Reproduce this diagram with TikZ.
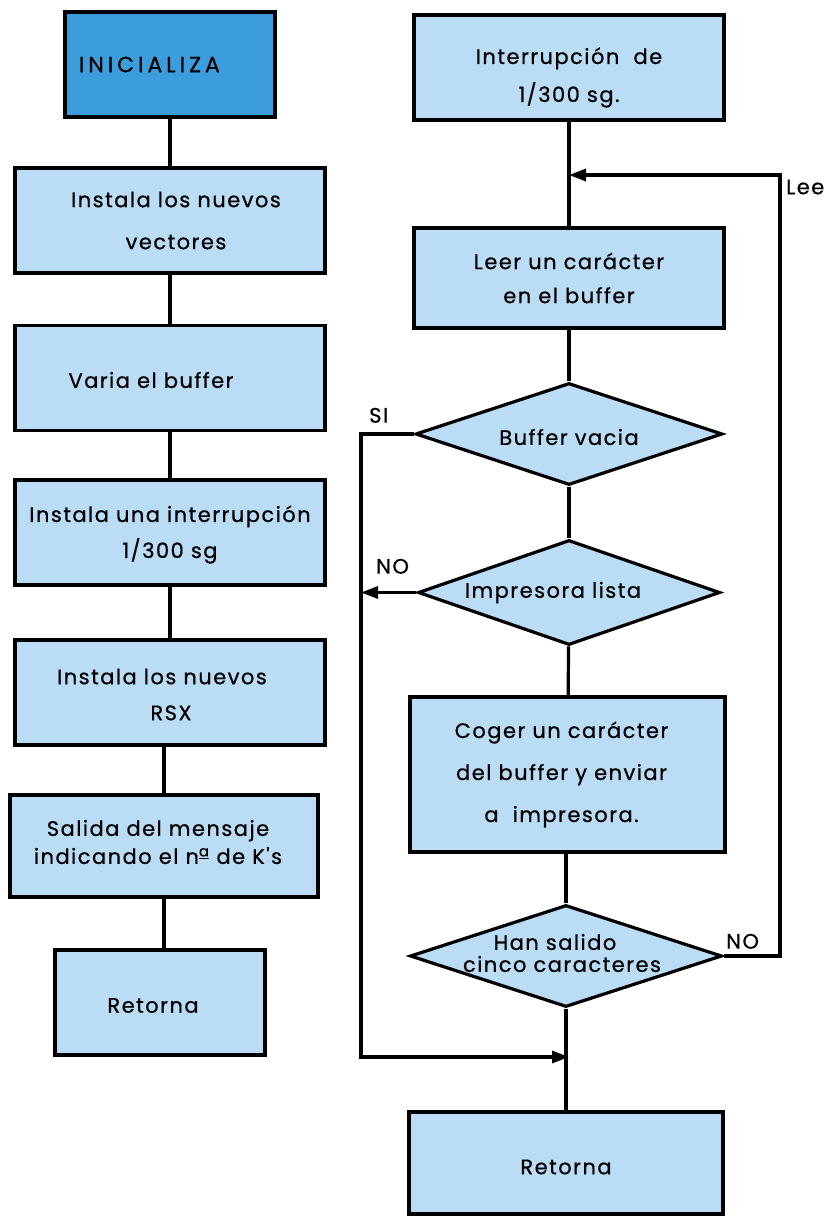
\documentclass[tikz,border=0pt]{standalone}
\usepackage{fontspec}
\setmainfont{Poppins}
\usetikzlibrary{shapes.geometric,arrows.meta}
\definecolor{lb}{RGB}{186,220,244}
\definecolor{db}{RGB}{60,157,221}
\newfontfamily\fcfont[LetterSpace=7,FakeBold=0.6]{Poppins}
\newfontfamily\wideft[LetterSpace=18,FakeBold=0.6]{Poppins}
\begin{document}
\begin{tikzpicture}[x=1pt,y=-1pt,
  every node/.style={font=\fcfont\fontsize{21pt}{26pt}\selectfont},
  every label/.style={align=center, inner sep=0pt},
  box/.style={draw, line width=3.2pt, fill=lb, minimum width=310pt, minimum height=105pt, inner sep=0pt, align=center},
  dia/.style={draw, line width=3.2pt, fill=lb, diamond, inner sep=0pt, minimum width=307pt, minimum height=102pt},
  ln/.style={line width=3.2pt},
  arr/.style={line width=3.2pt, -{Triangle[length=17pt,width=12pt]}},
  lbl/.style={inner sep=0pt}
]
\useasboundingbox (0,0) rectangle (831,1216);
\fill[white] (0,0) rectangle (831,1216);
% left column
\node[box, fill=db, minimum width=210pt, text width=182pt, align=left, font=\wideft\fontsize{22pt}{26pt}\selectfont] (ini) at (170,64.5) {INICIALIZA};
\node[box, label={[xshift=6pt]center:Instala los nuevos\\[16pt]vectores}] (vec) at (170,220.5) {};
\node[box, label={[xshift=-19pt, yshift=-2pt]center:Varia el buffer}] (buf) at (170,378) {};
\node[box, label={[yshift=-2pt]center:Instala una interrupción\\[10pt]1/300 sg}] (intr) at (170,532.5) {};
\node[box, label={[xshift=-8pt, yshift=-2pt]center:Instala los nuevos\\[10pt]\hspace*{18pt}RSX}] (rsx) at (170,692.5) {};
\node[box, minimum width=308pt, minimum height=102pt, label={[xshift=-6pt, yshift=4pt]center:Salida del mensaje\\[2pt]indicando el n\textsuperscript{\underline{a}} de K's}] (sal) at (164,846) {};
\node[box, minimum width=210pt, label={[xshift=-7pt, yshift=-3pt]center:Retorna}] (ret1) at (160,1002.5) {};
\draw[ln] (ini) -- (vec);
\draw[ln] (vec) -- (buf);
\draw[ln] (buf) -- (intr);
\draw[ln] (intr) -- (rsx);
\draw[ln] (rsx.south -| sal.north) -- (sal.north);
\draw[ln] (sal.south) -- (sal.south |- ret1.north);
% right column
\node[box, label={[yshift=-10pt]center:Interrupción \ de\\[12pt]1/300 sg.}] (irq) at (569,67.5) {};
\node[box, minimum height=100pt, label={center:Leer un carácter\\[8pt]en el buffer}] (leer) at (569,278) {};
\node[dia, label={[yshift=-3pt]center:Buffer vacia}] (bv) at (569,434) {};
\node[dia, minimum width=302pt, minimum height=105pt, label={[xshift=-16pt]center:Impresora lista}] (il) at (569,592.5) {};
\node[box, minimum width=315pt, minimum height=155pt, label={[xshift=-6pt]center:Coger un carácter\\[16pt]del buffer y enviar\\[16pt]a \ impresora.}] (cog) at (567.5,774.5) {};
\node[dia, minimum width=312pt, label={[font=\fcfont\fontsize{21pt}{22pt}\selectfont, yshift=3pt, xshift=-4pt]center:\hspace*{-14pt}Han salido\\cinco caracteres}] (hs) at (566,956) {};
\node[box, minimum width=314pt, minimum height=102pt, label={[yshift=-4pt]center:Retorna}] (ret2) at (566,1163) {};
\coordinate (j1) at (569,175);
\coordinate (j2) at (569,1057);
\draw[ln] (irq) -- (leer);
\draw[ln] (leer) -- (bv);
\draw[ln] (bv) -- (il);
\draw[ln] (il) -- (cog);
\draw[ln] (cog.south -| hs.north) -- (hs.north);
\draw[ln] (hs.south) -- (hs.south |- ret2.north);
% loops
\draw[arr] (hs.east) -- (780,956) -- (780,175) -- (j1);
\draw[arr] (bv.west) -- (361,434) -- (361,1057) -- (j2);
\draw[arr] (il.west) -- (361,592.5);
% labels
\node[lbl, anchor=south west] (si) at (369,423) {SI};
\node[lbl, anchor=south west] (no1) at (376,574) {NO};
\node[lbl, anchor=south west] (no2) at (726,949) {NO};
\node[lbl, anchor=west] (lee) at (786,187) {Lee};
\end{tikzpicture}
\end{document}
